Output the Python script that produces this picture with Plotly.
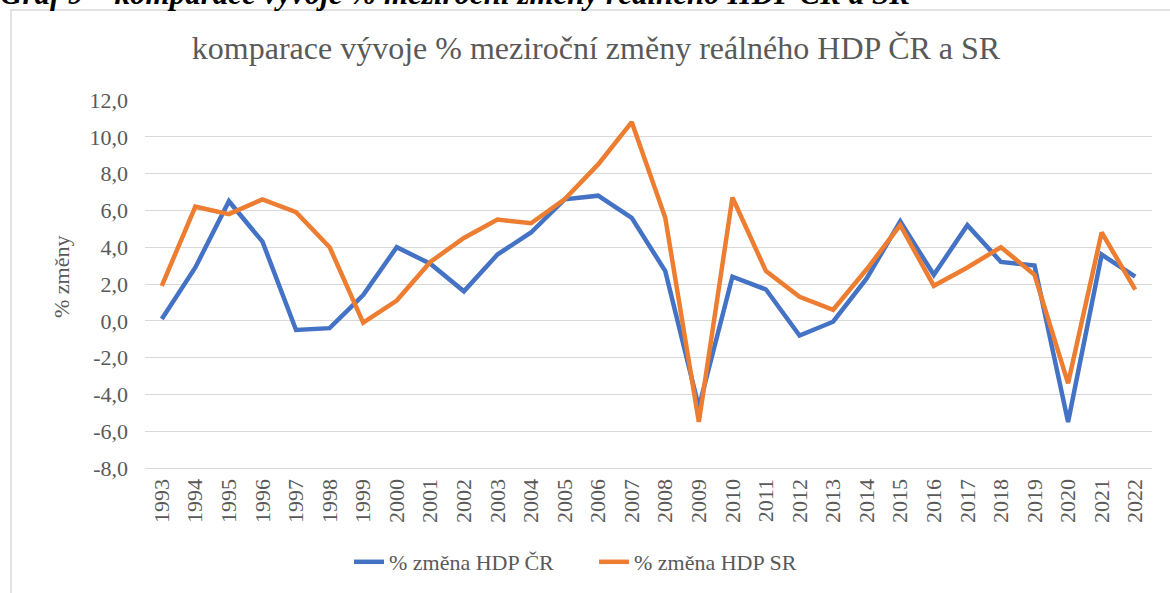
import plotly.graph_objects as go

years = [str(y) for y in range(1993, 2023)]
hdp_cr = [0.1, 2.9, 6.5, 4.3, -0.5, -0.4, 1.4, 4.0, 3.1, 1.6,
          3.6, 4.8, 6.6, 6.8, 5.6, 2.7, -4.7, 2.4, 1.7, -0.8,
          -0.05, 2.3, 5.4, 2.5, 5.2, 3.2, 3.0, -5.5, 3.6, 2.4]
hdp_sr = [1.9, 6.2, 5.8, 6.6, 5.9, 4.0, -0.1, 1.1, 3.2, 4.5,
          5.5, 5.3, 6.6, 8.5, 10.8, 5.6, -5.5, 6.7, 2.7, 1.3,
          0.6, 2.8, 5.2, 1.9, 2.9, 4.0, 2.5, -3.4, 4.8, 1.7]
series_names = ["% změna HDP ČR", "% změna HDP SR"]
y_tickvals = list(range(-8, 13, 2))
y_ticktext = [f"{v:.1f}".replace(".", ",") for v in y_tickvals]

W, H = 1170, 593
L, R, T, B = 145, 1152, 100, 468  # plot area in pixels


def px_x(p):
    return (p - L) / (R - L)


def px_y(p):
    return (B - p) / (B - T)


FONT = "Liberation Serif"
GREY = "#595959"
FS = 22

fig = go.Figure()
fig.add_trace(go.Scatter(x=years, y=hdp_cr, mode="lines", name=series_names[0],
                         line=dict(color="#4472C4", width=4.5)))
fig.add_trace(go.Scatter(x=years, y=hdp_sr, mode="lines", name=series_names[1],
                         line=dict(color="#ED7D31", width=4.5)))

fig.update_layout(
    width=W, height=H,
    margin=dict(l=L, r=W - R, t=T, b=H - B, autoexpand=False),
    paper_bgcolor="white", plot_bgcolor="white",
    font=dict(family=FONT, size=FS, color=GREY),
    title=dict(text="komparace vývoje % meziroční změny reálného HDP ČR a SR",
               xref="container", yref="container", x=596 / W, y=1 - 48 / H,
               xanchor="center", yanchor="middle",
               font=dict(family=FONT, size=32, color=GREY)),
    showlegend=True,
    legend=dict(orientation="h", x=px_x(594), y=px_y(562), xanchor="center", yanchor="middle",
                font=dict(family=FONT, size=FS, color=GREY), entrywidth=200,
                bgcolor="rgba(0,0,0,0)"),
    xaxis=dict(type="category", range=[-0.5, len(years) - 0.5], showgrid=False,
               showline=True, linecolor="#D9D9D9", linewidth=1.3,
               ticks="", tickangle=-90, ticklabelstandoff=1, zeroline=False,
               tickfont=dict(family=FONT, size=FS, color=GREY)),
    yaxis=dict(range=[-8, 12], tickvals=y_tickvals, ticktext=y_ticktext,
               showgrid=True, gridcolor="#D9D9D9", gridwidth=1.3, zeroline=False,
               ticks="", ticklabelstandoff=16, showline=False,
               tickfont=dict(family=FONT, size=FS, color=GREY)),
)

# y-axis title
fig.add_annotation(text="% změny", xref="paper", yref="paper", x=px_x(61), y=px_y(277),
                   xanchor="center", yanchor="middle", textangle=-90, showarrow=False,
                   font=dict(family=FONT, size=FS, color=GREY))

# document caption cut at the top of the image
fig.add_annotation(text="<b><i>Graf 9 – komparace vývoje % meziroční změny reálného HDP ČR a SR</i></b>",
                   xref="paper", yref="paper", x=px_x(-2), y=px_y(-7),
                   xanchor="left", yanchor="middle", showarrow=False,
                   font=dict(family=FONT, size=31, color="#000000"))

# chart frame
fig.add_shape(type="rect", xref="paper", yref="paper",
              x0=px_x(11), x1=px_x(W + 10), y0=px_y(H + 10), y1=px_y(10),
              line=dict(color="#D9D9D9", width=1.5), fillcolor="rgba(0,0,0,0)", layer="below")

fig.write_html("out.html", config={"displayModeBar": False},
               post_script="document.body.style.margin='0';")
